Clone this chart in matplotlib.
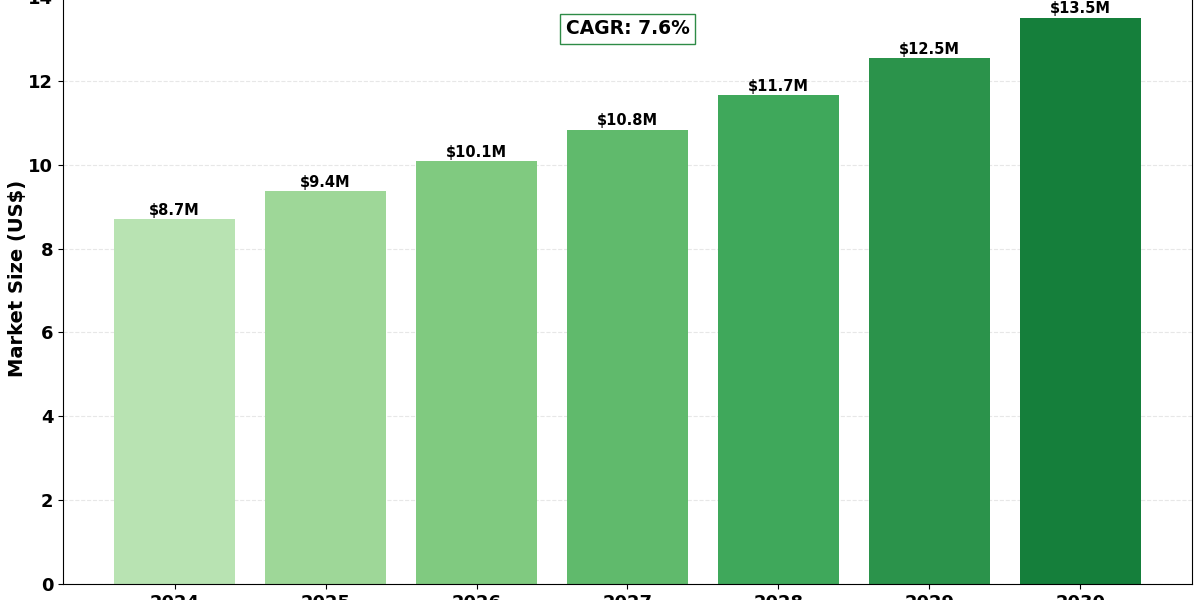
import numpy as np
import matplotlib
matplotlib.use("Agg")
from matplotlib import pyplot as plt

years = ["2024", "2025", "2026", "2027", "2028", "2029", "2030"]
market_size = [8.70, 9.37, 10.08, 10.84, 11.67, 12.54, 13.51]
cagr_text = "CAGR: 7.6%"

fig = plt.figure(figsize=(12, 6), dpi=100)
# axes extends past the figure edges, like the cropped original
ax = fig.add_axes([0.0525, 0.0267, 0.9408, 1.02])

colors = plt.cm.Greens(np.linspace(0.3, 0.8, len(years)))
bars = ax.bar(years, market_size, width=0.8, color=colors)

for bar, val in zip(bars, market_size):
    ax.text(bar.get_x() + bar.get_width() / 2, bar.get_height() + 0.03,
            f"${val:.1f}M", ha="center", va="bottom",
            fontsize=10.5, fontweight="bold")

ax.set_ylim(0, 14.6)
ax.set_ylabel("Market Size (US$)", fontsize=14, fontweight="bold", labelpad=1)
ax.tick_params(axis="both", labelsize=13)
for lab in ax.get_xticklabels() + ax.get_yticklabels():
    lab.set_fontweight("bold")

ax.yaxis.grid(True, linestyle="--", alpha=0.3)
ax.set_axisbelow(True)

ax.text(0.5, 0.907, cagr_text, transform=ax.transAxes, ha="center", va="center",
        fontsize=13.5, fontweight="bold",
        bbox=dict(boxstyle="square,pad=0.3", facecolor="white", edgecolor="#2e8b47"))

fig.savefig("out.png", dpi=100)
